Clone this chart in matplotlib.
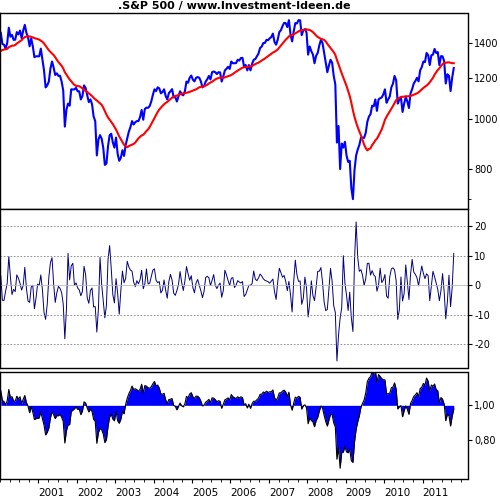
import numpy as np
import pandas as pd
import matplotlib
matplotlib.use("Agg")
import matplotlib.pyplot as plt
from matplotlib.ticker import FixedLocator, NullFormatter

# semi-monthly S&P 500 levels, Jan 1999 .. Oct 2011
prices = [
 1250,1280,1240,1238,1300,1286,1330,1335,1340,1302,1340,1373,1410,1329,1300,1320,1340,1283,1250,1362,1395,1389,1420,1469,
 1465,1394,1390,1366,1400,1499,1440,1452,1420,1421,1470,1455,1480,1431,1480,1518,1465,1437,1380,1429,1380,1315,1320,1320,
 1320,1366,1300,1240,1150,1160,1180,1249,1290,1256,1215,1224,1210,1211,1180,1134,966,1041,1070,1060,1140,1139,1140,1148,
 1130,1130,1090,1107,1160,1147,1110,1077,1090,1067,1010,990,850,912,930,916,880,815,820,886,930,936,900,880,
 920,856,830,841,870,848,890,917,945,964,990,975,985,990,990,1008,1040,996,1045,1051,1050,1058,1080,1112,
 1140,1131,1150,1145,1120,1126,1140,1107,1090,1121,1130,1141,1100,1102,1080,1104,1130,1115,1110,1130,1180,1174,1200,1212,
 1190,1181,1200,1204,1200,1181,1150,1157,1180,1192,1210,1191,1230,1234,1230,1220,1230,1229,1180,1207,1240,1249,1260,1248,
 1290,1280,1280,1281,1300,1295,1310,1311,1260,1270,1240,1270,1240,1277,1300,1304,1320,1336,1370,1378,1400,1401,1420,1418,
 1430,1438,1460,1407,1390,1421,1470,1482,1510,1531,1530,1503,1550,1455,1410,1474,1530,1527,1550,1549,1450,1481,1490,1468,
 1330,1379,1350,1331,1280,1323,1340,1386,1420,1400,1340,1280,1230,1267,1300,1283,1210,1165,900,969,800,896,880,903,
 850,826,830,735,700,798,850,873,890,919,920,919,940,987,1010,1021,1060,1057,1090,1036,1090,1096,1100,1115,
 1140,1074,1090,1104,1150,1169,1210,1187,1070,1089,1100,1031,1070,1102,1080,1049,1120,1141,1170,1183,1200,1181,1240,1258,
 1290,1286,1340,1327,1270,1326,1330,1364,1340,1345,1270,1321,1320,1292,1170,1219,1210,1131,1200,1253,
]
start_year = 1999
ma_window = 20
roc_lag = 2
year_labels = [str(y) for y in range(2001, 2012)]

plt.rcParams['axes.unicode_minus'] = False

p = pd.Series(prices, dtype=float)
t = start_year + (np.arange(len(p)) + 0.5) / 24.0
ma = p.rolling(ma_window, min_periods=1).mean()
roc = (p / p.shift(roc_lag) - 1) * 100
ratio = p / ma
m = t >= 2000.0

W = 0.935
fig = plt.figure(figsize=(5, 5), dpi=100)
ax1 = fig.add_axes([0.0, 0.582, W, 0.392])
ax2 = fig.add_axes([0.0, 0.264, W, 0.318], sharex=ax1)
ax3 = fig.add_axes([0.0, 0.042, W, 0.214], sharex=ax1)

ax1.plot(t[m], p[m], color='#0000ff', lw=1.5)
ax1.plot(t[m], ma[m], color='#ff0000', lw=1.5)
ax1.set_yscale('log')
ax1.set_ylim(670, 1600)
ax1.yaxis.set_major_locator(FixedLocator([800, 1000, 1200, 1400]))
ax1.yaxis.set_minor_locator(FixedLocator([700]))
ax1.yaxis.set_major_formatter(matplotlib.ticker.FuncFormatter(lambda v, _: f"{v:.0f}"))
ax1.yaxis.set_minor_formatter(NullFormatter())
ax1.set_title('.S&P 500 / www.Investment-Ideen.de', fontsize=8, fontweight='bold', pad=3)

ax2.plot(t[m], roc[m], color='#000080', lw=0.7)
ax2.set_ylim(-28, 25.8)
for v in [-20, -10, 10, 20]:
    ax2.axhline(v, color='gray', ls=(0, (2, 2)), lw=0.6)
ax2.axhline(0, color='#bbbbbb', lw=0.6)
ax2.set_yticks([-20, -10, 0, 10, 20])

r = ratio[m].values
ax3.fill_between(t[m], r, 1.0, color='#0000ff', lw=0)
ax3.plot(t[m], r, color='black', lw=0.8)
ax3.set_ylim(0.58, 1.19)
ax3.set_yticks([0.8, 1.0])
ax3.set_yticklabels(['0,80', '1,00'])

ax3.set_xlim(2000.0, 2012.17)
ax3.set_xticks(range(2001, 2012))
ax3.set_xticklabels(year_labels, ha='left')
ax3.set_xticks(np.arange(2000, 2012.2, 0.25), minor=True)

for ax in (ax1, ax2, ax3):
    ax.yaxis.tick_right()
    ax.tick_params(axis='y', labelsize=7, direction='out', length=3, pad=2)
    ax.tick_params(axis='x', labelsize=7.5, direction='out', length=3)
    for s in ax.spines.values():
        s.set_linewidth(1.0)
for ax in (ax1, ax2):
    ax.tick_params(axis='x', labelbottom=False, length=0)
    ax.tick_params(axis='x', which='minor', length=0)

fig.savefig('out.png', dpi=100)
